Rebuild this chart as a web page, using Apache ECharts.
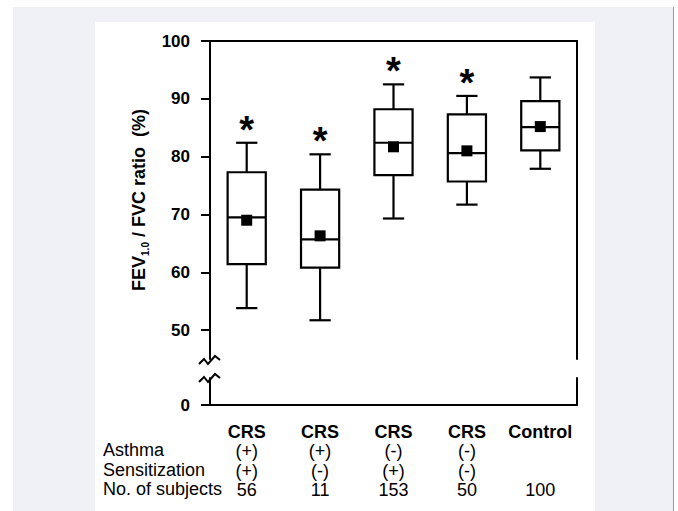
<!DOCTYPE html>
<html>
<head>
<meta charset="utf-8">
<script src="https://cdn.jsdelivr.net/npm/echarts@6/dist/echarts.min.js"></script>
<style>
  html, body { margin: 0; padding: 0; background: #ffffff; }
  #bg { position: absolute; left: 13px; top: 7px; width: 660px; height: 504px; background: #f0f1f7; border-right: 1px solid #9a9aa0; }
  #panel { position: absolute; left: 95px; top: 22px; width: 500px; height: 489px; background: #ffffff; }
  #chart { position: absolute; left: 0; top: 0; width: 678px; height: 511px; }
</style>
</head>
<body>
<div id="bg"></div>
<div id="panel"></div>
<div id="chart"></div>
<script>
// ---- data ----
const categories = ['CRS', 'CRS', 'CRS', 'CRS', 'Control'];
const asthma = ['(+)', '(+)', '(-)', '(-)', ''];
const sensitization = ['(+)', '(-)', '(+)', '(-)', ''];
const subjects = [56, 11, 153, 50, 100];
const rowHeaders = ['Asthma', 'Sensitization', 'No. of subjects'];
const whiskerLow = [53.8, 51.7, 69.3, 71.7, 77.9];
const q1 = [61.4, 60.8, 76.8, 75.7, 81.1];
const median = [69.5, 65.7, 82.4, 80.6, 85.1];
const q3 = [77.3, 74.3, 88.2, 87.3, 89.6];
const whiskerHigh = [82.4, 80.4, 92.5, 90.5, 93.7];
const mean = [69.0, 66.3, 81.7, 81.0, 85.2];
const significant = [1, 1, 1, 1, 0];
const yTicksUpper = [50, 60, 70, 80, 90, 100];
const yTicksLower = [0];

// ---- layout ----
const FONT = '"Liberation Sans", Arial, Helvetica, sans-serif';
const G_LEFT = 210, G_RIGHT = 101;
const UP_TOP = 41, UP_BOTTOM_Y = 359;
const LO_TOP = 378, LO_BOTTOM_Y = 405;
const LINE_H = 19.5, LABEL_MARGIN = 17, TABLE_FS = 18;

const catIds = categories.map((c, i) => 'g' + i);
const boxData = categories.map((c, i) => [i, whiskerLow[i], q1[i], median[i], q3[i], whiskerHigh[i], mean[i], significant[i]]);

const chart = echarts.init(document.getElementById('chart'), null, { renderer: 'svg' });

const axisLineStyle = { color: '#000', width: 2 };

function renderBox(params, api) {
  const i = api.value(0);
  const cx = api.coord([i, api.value(3)])[0];
  const y = (d) => api.coord([i, api.value(d)])[1];
  const yLo = y(1), yQ1 = y(2), yMed = y(3), yQ3 = y(4), yHi = y(5), yMean = y(6);
  const band = api.size([1, 0])[0];
  const bw = band * 0.52, cw = band * 0.29, ms = 11;
  const st = { stroke: '#000', lineWidth: 2.2, fill: null };
  const children = [
    { type: 'line', shape: { x1: cx, y1: yHi, x2: cx, y2: yQ3 }, style: st },
    { type: 'line', shape: { x1: cx, y1: yQ1, x2: cx, y2: yLo }, style: st },
    { type: 'line', shape: { x1: cx - cw / 2, y1: yHi, x2: cx + cw / 2, y2: yHi }, style: st },
    { type: 'line', shape: { x1: cx - cw / 2, y1: yLo, x2: cx + cw / 2, y2: yLo }, style: st },
    { type: 'rect', shape: { x: cx - bw / 2, y: yQ3, width: bw, height: yQ1 - yQ3 }, style: { fill: '#fff', stroke: '#000', lineWidth: 2.2 } },
    { type: 'line', shape: { x1: cx - bw / 2, y1: yMed, x2: cx + bw / 2, y2: yMed }, style: st },
    { type: 'rect', shape: { x: cx - ms / 2, y: yMean - ms / 2, width: ms, height: ms }, style: { fill: '#000' } }
  ];
  if (api.value(7)) {
    children.push({
      type: 'text',
      style: { text: '*', x: cx, y: yHi - 13, align: 'center', verticalAlign: 'middle',
               fontSize: 38, fontWeight: 'bold', fontFamily: FONT, fill: '#000' }
    });
  }
  return { type: 'group', children };
}

const rowGraphics = rowHeaders.map((t, k) => ({
  type: 'text',
  left: 103,
  top: LO_BOTTOM_Y + LABEL_MARGIN + LINE_H * (k + 1) + (LINE_H - TABLE_FS) / 2 - 1,
  style: { text: t, fontSize: TABLE_FS, fontFamily: FONT, fill: '#000' }
}));

const zig = (yOff) => ({
  type: 'polyline',
  shape: { points: [[199, 364 + yOff], [204, 359 + yOff], [208, 364 + yOff], [215, 356 + yOff], [220, 360 + yOff]] },
  style: { stroke: '#000', lineWidth: 2, fill: null }
});

const option = {
  animation: false,
  backgroundColor: 'transparent',
  textStyle: { fontFamily: FONT },
  grid: [
    { left: G_LEFT, right: G_RIGHT, top: UP_TOP, height: UP_BOTTOM_Y - UP_TOP },
    { left: G_LEFT, right: G_RIGHT, top: LO_TOP, height: LO_BOTTOM_Y - LO_TOP }
  ],
  xAxis: [
    {
      gridIndex: 0, type: 'category', data: catIds, position: 'top',
      axisLine: { show: true, lineStyle: axisLineStyle },
      axisTick: { show: false }, axisLabel: { show: false }, splitLine: { show: false }
    },
    {
      gridIndex: 1, type: 'category', data: catIds, position: 'bottom',
      axisLine: { show: true, lineStyle: axisLineStyle },
      axisTick: { show: false }, splitLine: { show: false },
      axisLabel: {
        show: true, interval: 0, margin: LABEL_MARGIN, color: '#000',
        fontSize: TABLE_FS, lineHeight: LINE_H, fontFamily: FONT,
        formatter: (v, i) => '{b|' + categories[i] + '}\n' +
          (asthma[i] || ' ') + '\n' + (sensitization[i] || ' ') + '\n' + subjects[i],
        rich: { b: { fontWeight: 'bold', fontSize: TABLE_FS, lineHeight: LINE_H, fontFamily: FONT, color: '#000' } }
      }
    }
  ],
  yAxis: [
    {
      gridIndex: 0, type: 'value', min: 45, max: 100, position: 'left',
      axisLine: { show: true, lineStyle: axisLineStyle },
      axisTick: { show: true, length: 9, lineStyle: axisLineStyle, customValues: yTicksUpper },
      axisLabel: { show: true, margin: 20, color: '#000', fontSize: 17, fontWeight: 'bold', fontFamily: FONT, customValues: yTicksUpper },
      splitLine: { show: false },
      name: '{n|FEV}{s|1.0}{n| / FVC ratio  (%)}',
      nameLocation: 'middle', nameRotate: 90, nameGap: 60,
      nameTextStyle: {
        rich: {
          n: { fontSize: 18, fontWeight: 'bold', fontFamily: FONT, color: '#000', lineHeight: 22 },
          s: { fontSize: 10, fontWeight: 'bold', fontFamily: FONT, color: '#000', lineHeight: 12, verticalAlign: 'bottom' }
        }
      }
    },
    {
      gridIndex: 0, type: 'value', min: 45, max: 100, position: 'right',
      axisLine: { show: true, lineStyle: axisLineStyle },
      axisTick: { show: false }, axisLabel: { show: false }, splitLine: { show: false }
    },
    {
      gridIndex: 1, type: 'value', min: 0, max: 5, position: 'left',
      axisLine: { show: true, lineStyle: axisLineStyle },
      axisTick: { show: true, length: 9, lineStyle: axisLineStyle, customValues: yTicksLower },
      axisLabel: { show: true, margin: 20, color: '#000', fontSize: 17, fontWeight: 'bold', fontFamily: FONT, customValues: yTicksLower },
      splitLine: { show: false }
    },
    {
      gridIndex: 1, type: 'value', min: 0, max: 5, position: 'right',
      axisLine: { show: true, lineStyle: axisLineStyle },
      axisTick: { show: false }, axisLabel: { show: false }, splitLine: { show: false }
    }
  ],
  graphic: rowGraphics.concat([zig(0), zig(18)]),
  series: [
    {
      type: 'custom', name: 'FEV1.0/FVC', xAxisIndex: 0, yAxisIndex: 0,
      clip: false, renderItem: renderBox,
      encode: { x: 0, y: [1, 2, 3, 4, 5] },
      data: boxData, z: 5
    }
  ]
};

chart.setOption(option);
</script>
</body>
</html>
